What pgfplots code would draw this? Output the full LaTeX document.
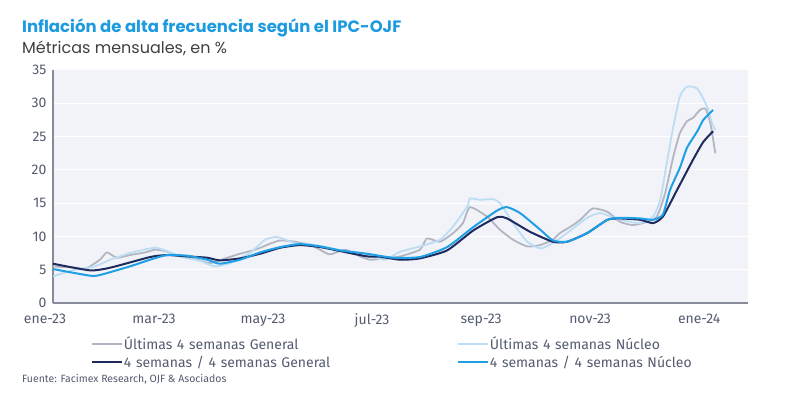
\documentclass[border=0pt]{standalone}
\usepackage{fontspec}
\setmainfont{Fira Sans}
\newfontfamily\titlefont{Poppins}
\usepackage{pgfplots}
\pgfplotsset{compat=1.18}
\definecolor{cgray}{HTML}{B2B6C2}
\definecolor{clight}{HTML}{BCDDF3}
\definecolor{cdark}{HTML}{1F2A5E}
\definecolor{cblue}{HTML}{1FA0E6}
\definecolor{ctitle}{HTML}{1E9BE0}
\definecolor{ctick}{HTML}{545B70}
\definecolor{cbg}{HTML}{F2F3F8}
\begin{document}
\begin{tikzpicture}[x=1pt,y=1pt]
\useasboundingbox (0,0) rectangle (800,395);
\node[anchor=base west,inner sep=0,font=\titlefont\bfseries\fontsize{16.5}{18}\selectfont,text=ctitle] at (22,362) {Inflación de alta frecuencia según el IPC-OJF};
\node[anchor=base west,inner sep=0,font=\titlefont\fontsize{16}{18}\selectfont,text=black!75] at (22,341) {Métricas mensuales, en \%};
\node[anchor=base west,inner sep=0,font=\fontsize{10.5}{12}\selectfont,text=ctick] at (22,12) {Fuente: Facimex Research, OJF \& Asociados};
\begin{axis}[
  at={(53pt,92pt)}, anchor=south west,
  scale only axis, width=695pt, height=233pt,
  xmin=0, xmax=12.75, ymin=0, ymax=35,
  axis background/.style={fill=cbg},
  axis x line=bottom, axis y line=left,
  axis line style={draw=ctick!70, line width=1.2pt, -},
  ytick={0,5,...,35},
  ymajorgrids, grid style={white, line width=1pt},
  xtick={0,2,4,6,8,10,12},
  xticklabels={ene-23,mar-23,may-23,jul-23,sep-23,nov-23,ene-24},
  xticklabel style={xshift=-8pt, yshift=-7pt},
  yticklabel style={xshift=-3pt},
  major tick length=0pt,
  tick label style={font=\fontsize{14}{16}\selectfont, text=ctick},
  /pgf/number format/assume math mode=true,
  legend columns=2,
  legend cell align=left,
  legend style={draw=none, fill=none, at={(0.05,-0.13)}, anchor=north west,
     font=\fontsize{14}{16}\selectfont, text=ctick,
     nodes={inner sep=1pt, text width=332pt},
     /tikz/every even column/.append style={column sep=0pt},
     row sep=3pt},
  legend image code/.code={\draw[#1] (0pt,0pt) -- (30pt,0pt);},
  every axis plot/.append style={smooth, tension=0.35, line join=round},
]
\addplot[cgray, line width=1.8pt] coordinates {
(0,5.5) (0.40,5.3) (0.59,5.1) (0.86,6.5) (0.99,7.6) (1.17,6.8) (1.41,7.2) (1.69,7.6) (1.87,8.0) (2.06,7.8) (2.33,7.0) (2.61,6.6) (2.88,6.0) (3.16,6.7) (3.43,7.4) (3.71,8.0) (3.98,8.9) (4.17,9.4) (4.44,9.2) (4.72,8.7) (4.90,8.0) (5.08,7.3) (5.36,8.0) (5.63,7.0) (5.82,6.5) (6.09,6.7) (6.37,7.0) (6.73,8.0) (6.86,9.7) (7.10,9.2) (7.34,10.5) (7.52,12.0) (7.65,14.4) (7.96,13.0) (8.20,11.0) (8.44,9.5) (8.70,8.5) (8.94,8.7) (9.17,9.5) (9.30,10.5) (9.54,11.7) (9.70,12.7) (9.90,14.2) (10.17,13.7) (10.40,12.2) (10.64,11.7) (10.90,12.2) (11.08,13.0) (11.23,16.5) (11.38,22.0) (11.50,25.5) (11.63,27.3) (11.74,27.8) (11.87,29.0) (11.97,29.2) (12.06,27.0) (12.15,22.5)};
\addlegendentry{Últimas 4 semanas General}
\addplot[clight, line width=1.8pt] coordinates {
(0,4.0) (0.40,5.0) (0.77,5.5) (1.05,6.5) (1.41,7.5) (1.87,8.3) (2.15,7.6) (2.42,6.8) (2.70,6.3) (2.97,5.5) (3.25,6.0) (3.61,7.5) (3.89,9.5) (4.07,9.9) (4.17,9.8) (4.44,9.0) (4.72,8.8) (5.08,8.3) (5.45,7.5) (5.82,7.0) (6.09,6.5) (6.37,7.7) (6.73,8.5) (7.10,9.5) (7.34,11.5) (7.60,14.5) (7.65,15.7) (7.83,15.5) (8.07,15.6) (8.20,15.0) (8.44,12.0) (8.70,9.2) (8.94,8.2) (9.17,9.0) (9.43,10.5) (9.80,12.8) (10.04,13.5) (10.40,12.5) (10.77,12.0) (11.01,13.0) (11.14,15.5) (11.27,21.5) (11.38,26.5) (11.50,31.0) (11.63,32.5) (11.82,32.2) (12.00,29.5) (12.09,27.0) (12.15,26.0)};
\addlegendentry{Últimas 4 semanas Núcleo}
\addplot[cdark, line width=2pt] coordinates {
(0,5.9) (0.68,4.9) (1.05,5.3) (1.78,6.9) (2.09,7.2) (2.46,7.0) (2.83,6.8) (3.06,6.4) (3.43,6.7) (3.80,7.4) (4.17,8.3) (4.53,8.7) (4.90,8.4) (5.27,7.8) (5.76,7.0) (6.00,6.95) (6.37,6.5) (6.73,6.7) (7.23,7.9) (7.71,10.9) (8.15,12.9) (8.33,12.7) (8.75,10.7) (9.17,9.2) (9.43,9.2) (9.80,10.5) (10.17,12.5) (10.40,12.7) (10.77,12.5) (11.01,12.0) (11.19,13.0) (11.45,17.0) (11.74,21.5) (11.93,24.2) (12.11,25.8)};
\addlegendentry{4 semanas / 4 semanas General}
\addplot[cblue, line width=2pt] coordinates {
(0,5.1) (0.68,4.1) (0.86,4.2) (1.41,5.5) (1.78,6.5) (2.09,7.2) (2.46,7.1) (2.83,6.5) (3.06,5.9) (3.43,6.5) (3.80,7.6) (4.17,8.4) (4.53,8.85) (4.90,8.5) (5.27,7.9) (5.76,7.4) (6.24,6.8) (6.73,6.9) (7.23,8.4) (7.71,11.4) (8.15,13.9) (8.33,14.4) (8.57,13.5) (8.94,11.0) (9.17,9.4) (9.43,9.2) (9.80,10.5) (10.17,12.5) (10.40,12.8) (10.77,12.7) (11.01,12.5) (11.19,13.3) (11.32,17.0) (11.50,20.3) (11.63,23.3) (11.82,25.8) (11.93,27.5) (12.11,29.0)};
\addlegendentry{4 semanas / 4 semanas Núcleo}
\end{axis}
\end{tikzpicture}
\end{document}
